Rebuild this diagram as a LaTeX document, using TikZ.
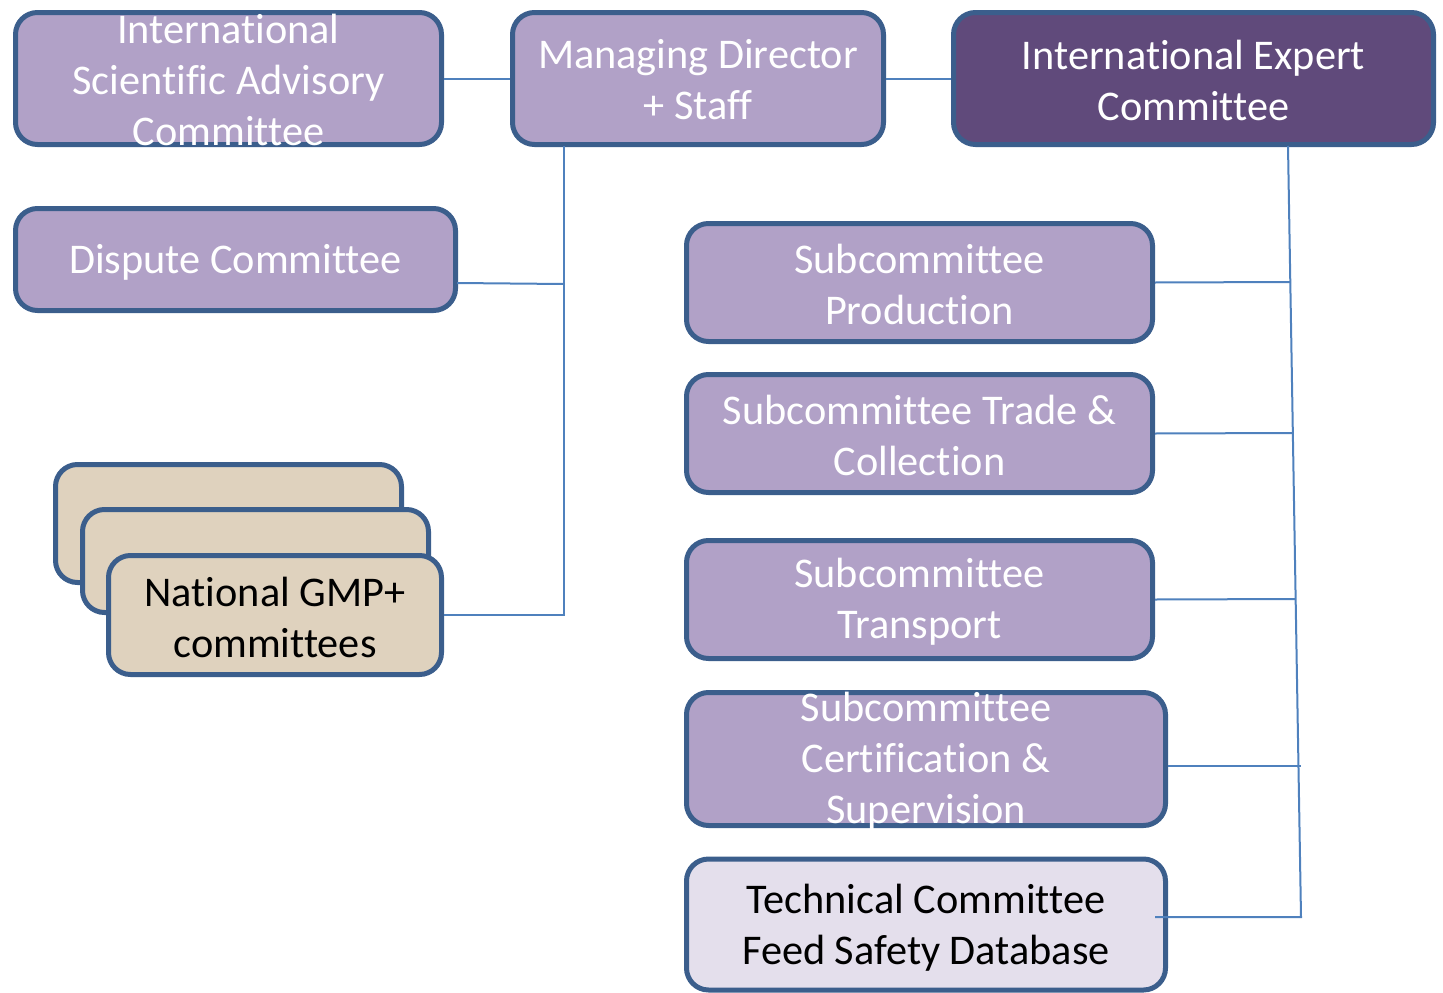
\documentclass[tikz,border=0pt]{standalone}
\usepackage{fontspec}
\setmainfont[Ligatures=NoCommon]{Carlito}
\definecolor{lpurple}{RGB}{177,161,199}
\definecolor{dpurple}{RGB}{96,74,123}
\definecolor{bordercol}{RGB}{59,94,140}
\definecolor{linecol}{RGB}{79,129,189}
\definecolor{tan}{RGB}{223,210,190}
\definecolor{lavender}{RGB}{228,223,236}
\tikzset{
  box/.style={draw=bordercol, line width=5pt, rounded corners=22pt, fill=lpurple, inner sep=0pt},
  txt/.style={align=center, font=\fontsize{42.3}{51}\selectfont, text=white, inner sep=0pt},
  conn/.style={draw=linecol, line width=2pt}
}
\begin{document}
\begin{tikzpicture}[x=1pt,y=-1pt]
\useasboundingbox (0,0) rectangle (1443,993);
% top row
\node[box, minimum width=426pt, minimum height=132pt] (isac) at (228.5,78.5) {};
\node[txt] at (228.5,80) {International\\Scientific Advisory\\Committee};
\node[box, minimum width=371pt, minimum height=132pt] (md) at (698,78.5) {};
\node[txt] at (698,80) {Managing Director\\+ Staff};
\node[box, fill=dpurple, minimum width=480pt, minimum height=132pt] (iec) at (1193.5,78.5) {};
\node[txt] at (1193.5,80) {International Expert\\Committee};
% left column
\node[box, minimum width=440pt, minimum height=102pt] (disp) at (235.5,259.5) {};
\node[txt] at (235.5,262) {Dispute Committee};
\node[box, fill=tan, minimum width=346pt, minimum height=118pt] (gmpa) at (228.5,523.5) {};
\node[box, fill=tan, minimum width=346pt, minimum height=103pt] (gmpb) at (255.5,561) {};
\node[box, fill=tan, minimum width=333pt, minimum height=119pt] (gmpc) at (275,615) {};
\node[txt, text=black] at (275,617) {National GMP+\\committees};
% right column
\node[box, minimum width=466pt, minimum height=118pt] (sprod) at (919.5,282.5) {};
\node[txt] at (919.5,284) {Subcommittee\\Production};
\node[box, minimum width=466pt, minimum height=118pt] (strade) at (919.5,433.5) {};
\node[txt] at (919.5,435) {Subcommittee Trade \&\\Collection};
\node[box, minimum width=466pt, minimum height=118pt] (strans) at (919.5,599.5) {};
\node[txt] at (919.5,601.5) {Subcommittee\\Transport};
\node[box, minimum width=479pt, minimum height=133pt] (scert) at (926,759) {};
\node[txt] at (926,761.5) {Subcommittee\\Certification \&\\Supervision};
\node[box, fill=lavender, minimum width=479pt, minimum height=131pt] (tech) at (926,924.5) {};
\node[txt, text=black] at (926,927.5) {Technical Committee\\Feed Safety Database};
% connector coordinates
\coordinate (mdtop) at (564,146);
\coordinate (dispout) at (457,283);
\coordinate (dispin) at (564,284);
\coordinate (iectop) at (1288,146);
\coordinate (iecbot) at (1301,917);
\coordinate (p1) at (1290.3,282);
\coordinate (p2) at (1292.8,433);
\coordinate (p3) at (1295.6,599);
\coordinate (p4) at (1301,766);
\coordinate (certout) at (1168,766);
\coordinate (techout) at (1155,917);
% connectors
\draw[conn] (isac.east) -- (md.west);
\draw[conn] (md.east) -- (iec.west);
\draw[conn] (mdtop) |- (gmpc.east);
\draw[conn] (dispout) -- (dispin);
\draw[conn] (iectop) -- (iecbot) -- (techout);
\draw[conn] (sprod.east) -- (p1);
\draw[conn] (strade.east) -- (p2);
\draw[conn] (strans.east) -- (p3);
\draw[conn] (certout) -- (p4);
\end{tikzpicture}
\end{document}
